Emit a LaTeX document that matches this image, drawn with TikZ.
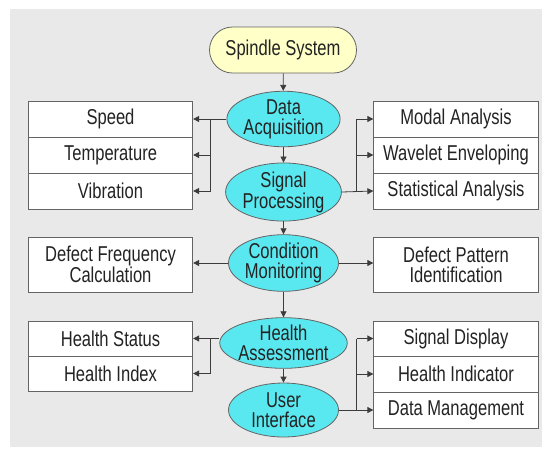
\documentclass[tikz,border=0pt]{standalone}
\usepackage{fontspec}
\setmainfont{Liberation Sans}[FakeStretch=0.77]
\usetikzlibrary{arrows.meta,shapes.geometric}
\definecolor{bggray}{RGB}{233,233,233}
\definecolor{cyanfill}{RGB}{90,232,240}
\definecolor{yellowfill}{RGB}{255,255,200}
\definecolor{edgegray}{RGB}{100,100,100}
\definecolor{linegray}{RGB}{60,60,60}
\definecolor{textgray}{RGB}{35,35,35}
\tikzset{
  lbl/.style={font=\fontsize{21.5}{20}\selectfont, text=textgray, align=center, inner sep=0pt},
  stepell/.style={lbl, ellipse, draw=edgegray, line width=0.8pt, fill=cyanfill, minimum width=110pt, minimum height=53pt},
  startbox/.style={lbl, rectangle, rounded corners=23pt, draw=edgegray, line width=0.8pt, fill=yellowfill, minimum width=147pt, minimum height=46pt},
  itembox/.style={lbl, rectangle, draw=edgegray, line width=0.8pt, fill=white, minimum width=164.5pt},
  conn/.style={draw=linegray, line width=0.8pt},
  arr/.style={conn, -{Triangle[length=6pt,width=6pt]}}
}
\begin{document}
\begin{tikzpicture}[x=1pt,y=-1pt]
\useasboundingbox (0,0) rectangle (545,448);
\fill[white] (0,0) rectangle (545,448);
\fill[bggray] (10,9) rectangle (542,447);

% main column
\node[startbox] (sp) at (283,50) {Spindle System};
\node[stepell] (da) at (283.5,119) {Data\\Acquisition};
\node[stepell, minimum height=54pt] (sg) at (283.5,192) {Signal\\Processing};
\node[stepell, minimum height=52pt] (cm) at (283.5,263) {Condition\\Monitoring};
\node[stepell, minimum height=50pt] (ha) at (283.5,343) {Health\\Assessment};
\node[stepell, minimum height=54pt] (ui) at (283.5,410) {User\\Interface};

% left boxes
\node[itembox, minimum height=36pt] (speed) at (110.5,119) {Speed};
\node[itembox, minimum height=36pt] (temp) at (110.5,155) {Temperature};
\node[itembox, minimum height=36pt] (vib) at (110.5,191) {Vibration};
\node[itembox, minimum height=55pt] (dfc) at (110.5,264.5) {Defect Frequency\\Calculation};
\node[itembox, minimum height=35pt] (hs) at (110.5,338.5) {Health Status};
\node[itembox, minimum height=35pt] (hi) at (110.5,373.5) {Health Index};

% right boxes
\node[itembox, minimum height=36pt] (modal) at (456,119) {Modal Analysis};
\node[itembox, minimum height=36pt] (wav) at (456,155) {Wavelet Enveloping};
\node[itembox, minimum height=36pt] (stat) at (456,191) {Statistical Analysis};
\node[itembox, minimum height=55pt] (dpi) at (456,264.5) {Defect Pattern\\Identification};
\node[itembox, minimum height=35pt] (sd) at (456,338.5) {Signal Display};
\node[itembox, minimum height=36pt] (hind) at (456,374) {Health Indicator};
\node[itembox, minimum height=36pt] (dm) at (456,410) {Data Management};

% branch points
\coordinate (lb1) at (210.7,119);
\coordinate (rb1) at (356.7,191);
\coordinate (lb2) at (210.7,338.5);
\coordinate (rb2) at (356.7,410);

% vertical flow
\draw[arr] (sp) -- (da);
\draw[arr] (da) -- (sg);
\draw[arr] (sg) -- (cm);
\draw[arr] (cm) -- (ha);
\draw[arr] (ha) -- (ui);

% data acquisition -> sensors
\draw[arr] (da.west) -- (speed.east);
\draw[conn] (lb1) -- (lb1 |- vib.east);
\draw[arr] (lb1 |- temp.east) -- (temp.east);
\draw[arr] (lb1 |- vib.east) -- (vib.east);

% signal processing -> analyses
\draw[arr] (sg.east) -- (stat.west);
\draw[conn] (rb1) -- (rb1 |- modal.west);
\draw[arr] (rb1 |- modal.west) -- (modal.west);
\draw[arr] (rb1 |- wav.west) -- (wav.west);

% condition monitoring
\draw[arr] (cm.west) -- (cm.west -| dfc.east);
\draw[arr] (cm.east) -- (cm.east -| dpi.west);

% health assessment
\draw[arr] (ha.west |- hs.east) -- (hs.east);
\draw[conn] (lb2) -- (lb2 |- hi.east);
\draw[arr] (lb2 |- hi.east) -- (hi.east);

% user interface
\draw[arr] (ui.east |- dm.west) -- (dm.west);
\draw[conn] (rb2) -- (rb2 |- sd.west);
\draw[arr] (rb2 |- sd.west) -- (sd.west);
\draw[arr] (rb2 |- hind.west) -- (hind.west);
\end{tikzpicture}
\end{document}
